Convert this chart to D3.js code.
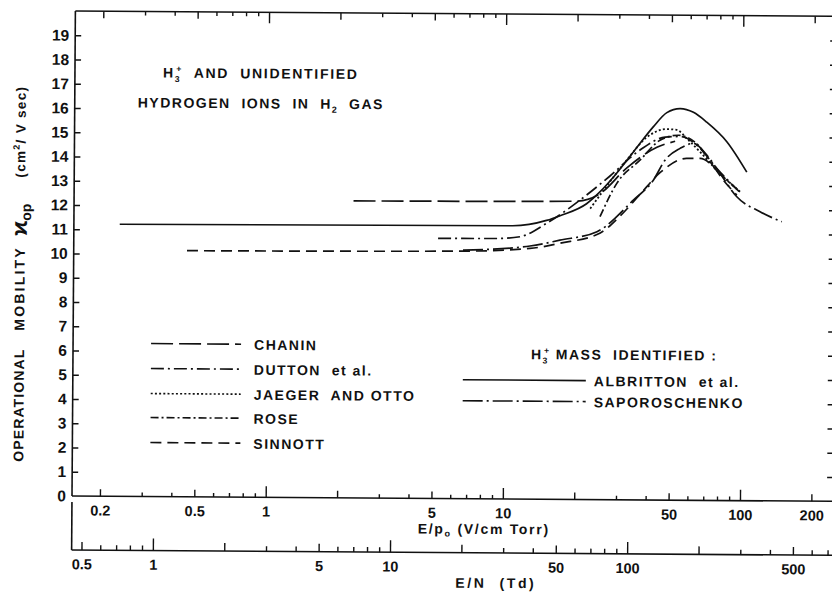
<!DOCTYPE html>
<html><head><meta charset="utf-8">
<script src="https://cdn.jsdelivr.net/npm/d3@7"></script>
<style>
body{margin:0;background:#fff;}
text{font-family:"Liberation Sans",Arial,sans-serif;fill:#111;font-weight:bold;}
</style></head><body>
<svg id="chart" width="832" height="592"></svg>
<script>
// Operational mobility of H3+ (and unidentified hydrogen ions) in H2 vs E/p0.
// Each series: [E/p0 (V/cm Torr), K_op (cm^2/V sec)]
const chanin = [[2.3,12.25],[20,12.3],[25,12.6],[32.7,13.7],[43.6,14.55],[52,14.8]];
const dutton = [[5.24,10.73],[9.29,10.74],[11.6,10.82],[15,11.38],[18.2,11.93],[22.1,12.56],[27.7,13.35],[37,14.43],[47.2,14.97],[55,15.0],[65,14.6],[78,13.7],[97,12.75]];
const jaeger = [[22.9,12.0],[26,12.75],[32.5,14.0],[39.4,14.95],[47.9,15.3],[52.8,15.27],[58.2,14.92],[66.3,14.37],[78,13.62],[98,12.74]];
const rose = [[25.2,11.67],[29.6,13.05],[37,14.01],[44.9,14.84],[53.5,15.05],[63.1,14.77],[76.8,13.7],[96.2,12.8]];
const sinnott = [[0.458,10.15],[6.68,10.21],[12.8,10.34],[17.1,10.56],[25.3,11.0],[30.6,11.7],[37.1,12.6],[45,13.5],[58.2,14.1],[66.3,14.1],[75.5,13.76],[83.3,13.21],[95,12.6]];
const albritton = [[0.238,11.22],[10.8,11.27],[15.0,11.5],[17.1,11.7],[22.1,12.2],[25.2,12.7],[28.6,13.3],[34.7,14.35],[42.1,15.4],[47.9,15.98],[54.5,16.15],[62,16.0],[70.6,15.6],[85.9,14.8],[104.5,13.55]];
const saporoschenko = [[6.68,10.25],[12.8,10.44],[17.1,10.69],[24.5,11.05],[34.8,12.36],[42.2,13.19],[47.2,14.02],[54.6,14.51],[62.1,14.72],[70.8,14.24],[80.6,13.49],[95,12.53],[119.2,11.92],[147.3,11.51]];

const seriesNames = ["CHANIN","DUTTON","JAEGER AND OTTO","ROSE","SINNOTT","ALBRITTON","SAPOROSCHENKO"];
const seriesData = [chanin, dutton, jaeger, rose, sinnott, albritton, saporoschenko];
const seriesDash = ["22,6","13,4,2,4","2,2.2","8,3,2,3","11,6",null,"20,4,2,4"];

const kTicks = [0,1,2,3,4,5,6,7,8,9,10,11,12,13,14,15,16,17,18,19];
const epLabels = [0.2,0.5,1,5,10,50,100,200];
const tdLabels = [0.5,1,5,10,50,100,500];
const TD_PER_VCM_TORR = 2.98;   // 1 V/cm Torr (at 0 C) in Townsend

const svg = d3.select("#chart");
const g = svg.append("g").attr("transform","rotate(0.4,72,496)");

const x = d3.scaleLog().domain([0.1525, 242]).range([72, 831]);
const y = d3.scaleLinear().domain([0, 20]).range([496, 11]);
const xTd = d3.scaleLog().domain([0.1525*TD_PER_VCM_TORR, 242*TD_PER_VCM_TORR]).range([72, 831]);
const xRight = 834;

function logTicks(lo, hi, pick) {
  const out = [];
  for (let e = -2; e <= 3; e++) for (let k = 1; k <= 9; k++) {
    const v = k * Math.pow(10, e);
    if (v >= lo && v <= hi && pick(k)) out.push(+v.toPrecision(3));
  }
  return out;
}
const dec = k => k === 1, half = k => k === 2 || k === 5, minor = k => k !== 1 && k !== 2 && k !== 5;

function styleAxis(sel) {
  sel.select(".domain").remove();
  sel.selectAll(".tick line").attr("stroke","#111").attr("stroke-width",1.4);
}

// frame lines
const lineStyle = s => s.attr("stroke","#111").attr("stroke-width",1.6).attr("fill","none");
g.append("line").attr("x1",72).attr("x2",xRight).attr("y1",496).attr("y2",496).call(lineStyle);
g.append("line").attr("x1",72).attr("x2",xRight).attr("y1",11).attr("y2",11).call(lineStyle);
g.append("line").attr("x1",72).attr("x2",72).attr("y1",11).attr("y2",496).call(lineStyle);
g.append("line").attr("x1",xRight).attr("x2",xRight).attr("y1",11).attr("y2",496).call(lineStyle);

// E/p0 ticks (bottom, pointing in) and mirrored on top
const epLo = 0.1525, epHi = 242;
[[dec,11],[half,7],[minor,4]].forEach(([f,len]) => {
  const vals = logTicks(epLo, epHi, f);
  g.append("g").attr("transform","translate(0,496)")
    .call(d3.axisBottom(x).tickValues(vals).tickSize(-len).tickFormat(""))
    .call(styleAxis);
  g.append("g").attr("transform","translate(0,11)")
    .call(d3.axisTop(x).tickValues(vals).tickSize(-len).tickFormat(""))
    .call(styleAxis);
});
g.append("g").attr("transform","translate(0,496)")
  .call(d3.axisBottom(x).tickValues(epLabels).tickSize(0).tickPadding(9).tickFormat(d3.format("~g")))
  .call(s => { s.select(".domain").remove(); s.selectAll("text").attr("font-size",14.5).attr("font-family","Liberation Sans"); });

// K ticks left and right
g.append("g").attr("transform","translate(72,0)")
  .call(d3.axisLeft(y).tickValues(kTicks.filter(d => d > 0)).tickSize(-6).tickFormat(""))
  .call(styleAxis);
g.append("g").attr("transform","translate(72,0)")
  .call(d3.axisLeft(y).tickValues(kTicks).tickSize(0).tickPadding(6))
  .call(s => { s.select(".domain").remove(); s.selectAll("text").attr("font-size",15.5).attr("font-family","Liberation Sans"); });
g.append("g").attr("transform",`translate(${xRight},0)`)
  .call(d3.axisRight(y).tickValues(kTicks.filter(d => d > 0)).tickSize(-7).tickFormat(""))
  .call(styleAxis);

// E/N (Td) axis
g.append("line").attr("x1",72).attr("x2",xRight).attr("y1",550).attr("y2",550).call(lineStyle);
g.append("line").attr("x1",72).attr("x2",72).attr("y1",502).attr("y2",550).call(lineStyle);
const tdLo = epLo*TD_PER_VCM_TORR, tdHi = epHi*TD_PER_VCM_TORR;
[[dec,12],[half,8],[minor,5]].forEach(([f,len]) => {
  g.append("g").attr("transform","translate(0,550)")
    .call(d3.axisBottom(xTd).tickValues(logTicks(tdLo, tdHi, f)).tickSize(-len).tickFormat(""))
    .call(styleAxis);
});
g.append("g").attr("transform","translate(0,550)")
  .call(d3.axisBottom(xTd).tickValues(tdLabels).tickSize(0).tickPadding(9).tickFormat(d3.format("~g")))
  .call(s => { s.select(".domain").remove(); s.selectAll("text").attr("font-size",14.5).attr("font-family","Liberation Sans"); });

// axis titles
const epTitle = g.append("text").attr("x",418).attr("y",531).attr("font-size",14).attr("letter-spacing",1.7);
epTitle.append("tspan").text("E/p");
epTitle.append("tspan").attr("font-size",9).attr("dy",3).text("o");
epTitle.append("tspan").attr("dy",-3).text(" (V/cm Torr)");
g.append("text").attr("x",456).attr("y",585).attr("font-size",14).attr("letter-spacing",2.6)
  .style("white-space","pre").text("E/N  (Td)");

const yt = g.append("g").attr("transform","translate(23,0) rotate(-90)");
yt.append("text").attr("x",-462).attr("y",0).attr("font-size",14).attr("letter-spacing",1.1).text("OPERATIONAL");
yt.append("text").attr("x",-331).attr("y",0).attr("font-size",14).attr("letter-spacing",2.2).text("MOBILITY");
const kap = yt.append("text").attr("x",-236).attr("y",2).attr("font-size",22).attr("font-weight","normal");
kap.append("tspan").text("ϰ");
kap.append("tspan").attr("font-size",14).attr("font-weight","bold").attr("dy",4).text("op");
const unit = yt.append("text").attr("x",-178).attr("y",0).attr("font-size",13.5).attr("letter-spacing",1.3);
unit.append("tspan").text("(cm");
unit.append("tspan").attr("font-size",9).attr("dy",-6).text("2");
unit.append("tspan").attr("dy",6).text("/ V sec)");

// H3+ label helper
function h3(sel, fs) {
  sel.append("tspan").text("H");
  sel.append("tspan").attr("font-size",fs*0.62).attr("dy",fs*0.3).text("3");
  sel.append("tspan").attr("font-size",fs*0.62).attr("dx",-fs*0.36).attr("dy",-fs*0.72).text("+");
  return sel.append("tspan").attr("dy",fs*0.42);
}
const t1 = g.append("text").attr("x",160).attr("y",77).attr("font-size",14).attr("letter-spacing",1.7).style("white-space","pre");
h3(t1,14).text("  AND  UNIDENTIFIED");
const t2 = g.append("text").attr("x",135).attr("y",107).attr("font-size",14).attr("letter-spacing",1.5).style("white-space","pre");
t2.append("tspan").text("HYDROGEN  IONS  IN  H");
t2.append("tspan").attr("font-size",9).attr("dy",4).text("2");
t2.append("tspan").attr("dy",-4).text("  GAS");

// curves
const line = d3.line().x(d => x(d[0])).y(d => y(d[1])).curve(d3.curveMonotoneX);
seriesData.forEach((data, i) => {
  g.append("path").datum(data).attr("d", line)
    .attr("fill","none").attr("stroke","#111").attr("stroke-width", i === 2 ? 1.8 : 1.7)
    .attr("stroke-dasharray", seriesDash[i]);
});

// legend: unidentified ions
const legLeft = [0,1,2,3,4];
const legY = [343,368,393,417,442];
const legText = ["CHANIN","DUTTON  et al.","JAEGER  AND OTTO","ROSE","SINNOTT"];
legLeft.forEach((si, j) => {
  g.append("line").attr("x1",150).attr("x2",240).attr("y1",legY[j]).attr("y2",legY[j])
    .attr("stroke","#111").attr("stroke-width",1.6).attr("stroke-dasharray",seriesDash[si]);
  g.append("text").attr("x",253).attr("y",legY[j]+5.5).attr("font-size",14).attr("letter-spacing",1.5)
    .style("white-space","pre").text(legText[j]);
});
// legend: mass identified
const hm = g.append("text").attr("x",530).attr("y",356).attr("font-size",14).attr("letter-spacing",1.5).style("white-space","pre");
h3(hm,14).text(" MASS  IDENTIFIED :");
const legRight = [5,6];
const legRY = [377,398];
const legRText = ["ALBRITTON  et al.","SAPOROSCHENKO"];
legRight.forEach((si, j) => {
  g.append("line").attr("x1",462).attr("x2",585).attr("y1",legRY[j]).attr("y2",legRY[j])
    .attr("stroke","#111").attr("stroke-width",1.6).attr("stroke-dasharray",seriesDash[si]);
  g.append("text").attr("x",593).attr("y",legRY[j]+5.5).attr("font-size",14).attr("letter-spacing",1.5)
    .style("white-space","pre").text(legRText[j]);
});
</script>
</body></html>
